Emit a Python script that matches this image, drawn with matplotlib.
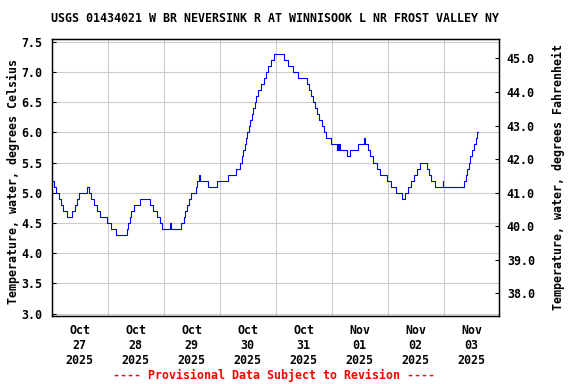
import matplotlib
matplotlib.use("Agg")
import matplotlib.pyplot as plt
import pandas as pd
from matplotlib.ticker import FixedLocator, FormatStrFormatter

title = "USGS 01434021 W BR NEVERSINK R AT WINNISOOK L NR FROST VALLEY NY"
footer = "---- Provisional Data Subject to Revision ----"
left_label = "Temperature, water, degrees Celsius"
right_label = "Temperature, water, degrees Fahrenheit"

start = pd.Timestamp("2025-10-27 00:00")

# change points: hours since start, water temperature (deg C)
change_hours = [
    0.0, 0.8, 1.9, 3.0, 4.0, 5.0, 6.5, 8.6, 10.0, 10.9, 11.9, 15.2, 16.2, 16.9,
    18.1, 19.3, 20.5, 23.6, 25.5, 27.5, 32.1, 32.6, 33.6, 34.1, 35.4, 38.0,
    42.0, 43.5, 45.2, 46.3, 47.3, 50.8, 51.1, 55.3, 56.6, 57.3, 58.0, 58.9,
    59.7, 61.9, 62.3, 63.3, 63.6, 66.9, 70.8, 75.5, 78.9, 80.6, 81.4, 82.0,
    82.7, 83.4, 83.9, 84.6, 85.1, 85.9, 86.4, 87.1, 87.7, 88.3, 89.8, 91.0,
    92.0, 92.8, 93.9, 95.4, 99.5, 101.4, 103.6, 105.7, 109.6, 110.3, 111.3,
    112.0, 112.9, 113.9, 114.6, 115.7, 116.7, 117.4, 119.7, 122.1, 122.4,
    122.7, 123.0, 123.4, 126.4, 127.9, 131.1, 133.9, 134.3, 135.7, 136.6,
    137.6, 139.4, 140.7, 143.6, 145.6, 147.7, 150.3, 151.4, 152.7, 153.9,
    155.3, 156.4, 158.0, 160.9, 161.7, 162.7, 164.4, 167.6, 167.9, 176.7,
    177.4, 178.1, 178.9, 179.4, 180.1, 181.0, 181.9, 182.4, 182.7,
]
change_values = [
    5.2, 5.1, 5.0, 4.9, 4.8, 4.7, 4.6, 4.7, 4.8, 4.9, 5.0, 5.1, 5.0, 4.9,
    4.8, 4.7, 4.6, 4.5, 4.4, 4.3, 4.4, 4.5, 4.6, 4.7, 4.8, 4.9,
    4.8, 4.7, 4.6, 4.5, 4.4, 4.5, 4.4, 4.5, 4.6, 4.7, 4.8, 4.9,
    5.0, 5.1, 5.2, 5.3, 5.2, 5.1, 5.2, 5.3, 5.4, 5.5, 5.6, 5.7,
    5.8, 5.9, 6.0, 6.1, 6.2, 6.3, 6.4, 6.5, 6.6, 6.7, 6.8, 6.9,
    7.0, 7.1, 7.2, 7.3, 7.2, 7.1, 7.0, 6.9, 6.8, 6.7, 6.6,
    6.5, 6.4, 6.3, 6.2, 6.1, 6.0, 5.9, 5.8, 5.7, 5.8,
    5.7, 5.8, 5.7, 5.6, 5.7, 5.8, 5.9, 5.8, 5.7, 5.6,
    5.5, 5.4, 5.3, 5.2, 5.1, 5.0, 4.9, 5.0, 5.1, 5.2,
    5.3, 5.4, 5.5, 5.4, 5.3, 5.2, 5.1, 5.2, 5.1, 5.2,
    5.3, 5.4, 5.5, 5.6, 5.7, 5.8, 5.9, 6.0, 6.0,
]

day_labels = ["Oct\n27\n2025", "Oct\n28\n2025", "Oct\n29\n2025", "Oct\n30\n2025",
              "Oct\n31\n2025", "Nov\n01\n2025", "Nov\n02\n2025", "Nov\n03\n2025"]
celsius_ticks = [3.0, 3.5, 4.0, 4.5, 5.0, 5.5, 6.0, 6.5, 7.0, 7.5]
fahrenheit_ticks = [38.0, 39.0, 40.0, 41.0, 42.0, 43.0, 44.0, 45.0]

FONT = "DejaVu Sans Mono"
FS = 8.4

times = start + pd.to_timedelta(change_hours, unit="h")

fig = plt.figure(figsize=(5.76, 3.84), dpi=100)
ax = fig.add_axes([51.7 / 576, 1 - 315.7 / 384, (498.5 - 51.7) / 576, (315.7 - 39.3) / 384])

ax.step(times, change_values, where="post", color="#0000ff", lw=0.8, zorder=3)

ylo, yhi = 2.964, 7.54
ax.set_ylim(ylo, yhi)
ax.set_xlim(start, start + pd.Timedelta(hours=191.5))

noon = [start + pd.Timedelta(hours=12 + 24 * i) for i in range(len(day_labels))]
midnight = [start + pd.Timedelta(hours=24 * i) for i in range(1, len(day_labels))]
ax.set_xticks(noon)
ax.set_xticklabels(day_labels, fontfamily=FONT, fontweight="bold", fontsize=FS)
ax.set_xticks(midnight, minor=True)
ax.tick_params(axis="x", which="both", length=0, pad=6)
ax.grid(which="minor", axis="x", color="#cccccc", lw=0.8, zorder=1)

ax.set_yticks(celsius_ticks)
ax.yaxis.set_major_formatter(FormatStrFormatter("%.1f"))
ax.tick_params(axis="y", direction="in", length=3, pad=7)
for lab in ax.get_yticklabels():
    lab.set_fontfamily(FONT)
    lab.set_fontweight("bold")
    lab.set_fontsize(FS)
ax.grid(which="major", axis="y", color="#cccccc", lw=0.8, zorder=1)

for s in ax.spines.values():
    s.set_linewidth(1.0)
    s.set_color("black")

ax2 = ax.twinx()
ax2.set_ylim(ylo * 9 / 5 + 32, yhi * 9 / 5 + 32)
ax2.yaxis.set_major_locator(FixedLocator(fahrenheit_ticks))
ax2.yaxis.set_major_formatter(FormatStrFormatter("%.1f"))
ax2.tick_params(axis="y", direction="in", length=3, pad=6)
for lab in ax2.get_yticklabels():
    lab.set_fontfamily(FONT)
    lab.set_fontweight("bold")
    lab.set_fontsize(FS)

axc = (1 - 315.7 / 384 + 1 - 39.3 / 384) / 2
fig.text(13 / 576, axc - 0.01, left_label, rotation=90, ha="center", va="center",
         fontfamily=FONT, fontweight="bold", fontsize=FS)
fig.text(558 / 576, axc, right_label, rotation=90, ha="center", va="center",
         fontfamily=FONT, fontweight="bold", fontsize=FS)
fig.text(275 / 576, 1 - 19 / 384, title, ha="center", va="center",
         fontfamily=FONT, fontweight="bold", fontsize=FS)
fig.text(274 / 576, 1 - 375 / 384, footer, ha="center", va="center", color="#ff0000",
         fontfamily=FONT, fontweight="bold", fontsize=FS)

fig.savefig("out.png", dpi=100)
